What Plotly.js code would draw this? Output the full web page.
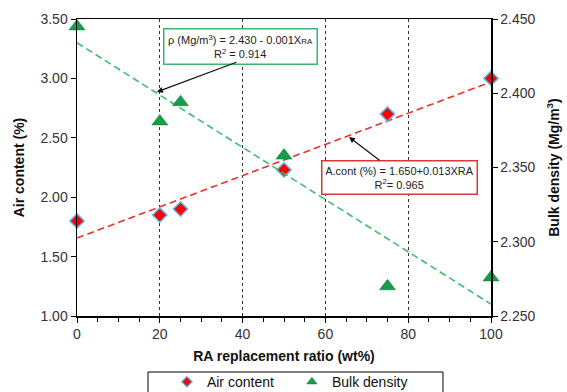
<!DOCTYPE html>
<html>
<head>
<meta charset="utf-8">
<script src="https://cdn.plot.ly/plotly-3.0.1.min.js"></script>
<style>html,body{margin:0;padding:0;background:#fff;}#chart{width:567px;height:392px;}</style>
</head>
<body>
<div id="chart"></div>
<script>
// Data
const raRatio = [0, 20, 25, 50, 75, 100];
const airContent = [1.80, 1.85, 1.90, 2.23, 2.70, 3.00];
const bulkDensity = [2.445, 2.381, 2.394, 2.358, 2.270, 2.276];
// Trend line end points
const trendX = [0, 100];
const airTrend = [1.656, 2.970];
const densityTrend = [2.434, 2.258];
const seriesNames = ["Air content", "Bulk density"];

const FONT = "Liberation Sans, Arial, sans-serif";

const traces = [
  {x: trendX, y: airTrend, mode: "lines", yaxis: "y", showlegend: false, hoverinfo: "skip",
   line: {color: "#e8312a", width: 1.6, dash: "7px,4px"}},
  {x: trendX, y: densityTrend, mode: "lines", yaxis: "y2", showlegend: false, hoverinfo: "skip",
   line: {color: "#3dbf6b", width: 1.6, dash: "7px,4px"}},
  {x: raRatio, y: airContent, name: seriesNames[0], mode: "markers", yaxis: "y", cliponaxis: false, showlegend: false,
   marker: {symbol: "diamond", size: 11, color: "#ff0000", line: {color: "#5ab8e6", width: 1.5}}},
  {x: raRatio, y: bulkDensity, name: seriesNames[1], mode: "markers", yaxis: "y2", cliponaxis: false, showlegend: false,
   marker: {symbol: "triangle-up", size: 14, color: "#169c4a", line: {color: "#0f7a37", width: 0.5}}},
  // legend entries (smaller symbols, as in the reference legend)
  {x: [null], y: [null], name: seriesNames[0], mode: "markers", yaxis: "y",
   marker: {symbol: "diamond", size: 8, color: "#ff0000", line: {color: "#5ab8e6", width: 1.2}}},
  {x: [null], y: [null], name: seriesNames[1], mode: "markers", yaxis: "y2",
   marker: {symbol: "triangle-up", size: 9, color: "#169c4a", line: {color: "#0f7a37", width: 0.5}}}
];

const layout = {
  width: 567, height: 392,
  margin: {l: 77, r: 76, t: 19, b: 76},
  paper_bgcolor: "#fff", plot_bgcolor: "#fff",
  font: {family: FONT, color: "#333", size: 13},
  xaxis: {
    range: [0, 100], dtick: 20, tick0: 0,
    showline: true, linecolor: "#000", linewidth: 1.5, mirror: true,
    ticks: "outside", ticklen: 5, tickcolor: "#000",
    minor: {dtick: 5, ticks: "outside", ticklen: 4, tickcolor: "#000", showgrid: false},
    showgrid: true, gridcolor: "#333", griddash: "dot", gridwidth: 1,
    zeroline: false, automargin: false,
    tickfont: {size: 14, color: "#333", family: FONT},
    title: {text: "RA replacement ratio (wt%)", font: {size: 14, color: "#111", family: FONT, weight: "bold"}, standoff: 10}
  },
  yaxis: {
    range: [1, 3.5], dtick: 0.5, tickformat: ".2f",
    showline: true, linecolor: "#000", linewidth: 1.5,
    ticks: "outside", ticklen: 5, tickcolor: "#000",
    showgrid: false, zeroline: false, automargin: false,
    tickfont: {size: 14, color: "#333", family: FONT},
    title: {text: "Air content (%)", font: {size: 14, color: "#111", family: FONT, weight: "bold"}, standoff: 12}
  },
  yaxis2: {
    range: [2.25, 2.45], dtick: 0.05, tickformat: ".3f",
    overlaying: "y", side: "right",
    showline: true, linecolor: "#000", linewidth: 1.5,
    ticks: "outside", ticklen: 5, tickcolor: "#000",
    showgrid: false, zeroline: false, automargin: false,
    tickfont: {size: 14, color: "#333", family: FONT},
    title: {text: "Bulk density (Mg/m<sup>3</sup>)", font: {size: 14, color: "#111", family: FONT, weight: "bold"}, standoff: 14}
  },
  legend: {
    orientation: "h", xref: "container", yref: "container",
    x: 0.2944, xanchor: "left", y: 0.066, yanchor: "top",
    borderwidth: 0, bgcolor: "rgba(0,0,0,0)",
    font: {size: 14, color: "#111", family: FONT},
    itemwidth: 30, entrywidth: 80, tracegroupgap: 0
  },
  shapes: [
    {type: "rect", xref: "paper", yref: "paper", x0: 0.1715, x1: 0.884, y0: -0.1886, y1: -0.30,
     line: {color: "#000", width: 1}, fillcolor: "rgba(0,0,0,0)", layer: "above"}
  ],
  annotations: [
    {xref: "x", yref: "y", x: 39.6, y: 3.27, showarrow: false,
     text: "ρ (Mg/m<sup>3</sup>) = 2.430 - 0.001X<span style='font-size:8px'>RA</span><br>R<sup>2</sup> = 0.914",
     font: {size: 11, color: "#222", family: FONT}, align: "center",
     bordercolor: "#3cb371", borderwidth: 1.5, borderpad: 3, bgcolor: "#fff", width: 146},
    {xref: "x", yref: "y", x: 19.3, y: 2.886, showarrow: true, text: " ",
     ax: 83, ay: -31, arrowhead: 2, arrowsize: 1, arrowwidth: 1.2, arrowcolor: "#111"},
    {xref: "x", yref: "y", x: 78.0, y: 2.162, showarrow: false,
     text: "A.cont (%) = 1.650+0.013XRA<br>R<sup>2</sup>= 0.965",
     font: {size: 11, color: "#222", family: FONT}, align: "center",
     bordercolor: "#e03535", borderwidth: 1.5, borderpad: 3, bgcolor: "#fff", width: 148},
    {xref: "x", yref: "y", x: 65.7, y: 2.507, showarrow: true, text: " ",
     ax: 34, ay: 26, arrowhead: 2, arrowsize: 1, arrowwidth: 1.2, arrowcolor: "#111"}
  ]
};

Plotly.newPlot("chart", traces, layout, {displayModeBar: false, staticPlot: true});
</script>
</body>
</html>
